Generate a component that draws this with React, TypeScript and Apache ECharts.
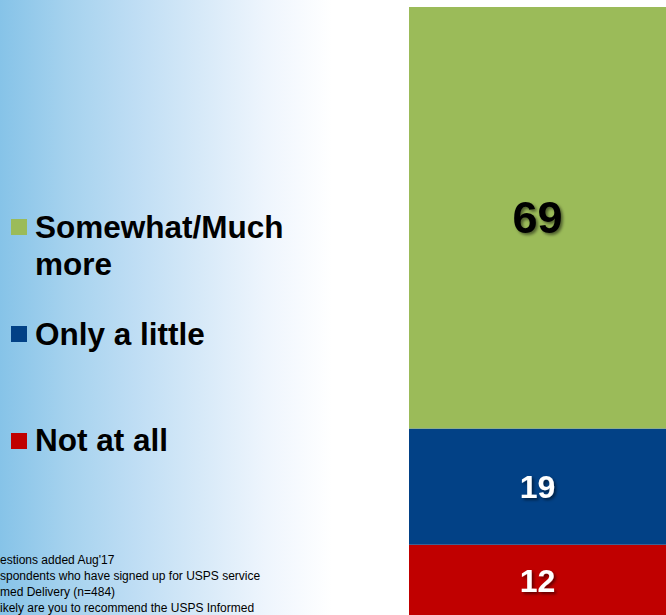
import React, { useEffect, useRef } from "react";
import * as echarts from "echarts";

const categories = ["Recommend"];
const seriesNames = ["Not at all", "Only a little", "Somewhat/Much more"];
const seriesValues = [12, 19, 69];
const seriesColors = ["#C00000", "#024186", "#9BBB59"];
const legendOrder = [2, 1, 0];
const legendLabels = ["Somewhat/Much\nmore", "Only a little", "Not at all"];
const footnoteLines = [
  "estions added Aug'17",
  "spondents who have signed up for USPS service",
  "med Delivery (n=484)",
  "ikely are you to recommend the USPS Informed",
];

export default function App() {
  const ref = useRef<HTMLDivElement>(null);
  useEffect(() => {
    if (!ref.current) return;
    const chart = echarts.init(ref.current, null, { renderer: "svg" });
    const font = "'Liberation Sans', Arial, sans-serif";
    const legendSquareY = [219, 326, 433];
    const legendTextY = [208, 333.5, 439.5];
    const legendGraphics: any[] = [];
    legendOrder.forEach((si, i) => {
      legendGraphics.push({
        type: "rect",
        shape: { x: 11, y: legendSquareY[i], width: 16, height: 16 },
        style: { fill: seriesColors[si] },
        silent: true,
      });
      legendGraphics.push({
        type: "text",
        x: 35,
        y: legendTextY[i],
        style: {
          text: legendLabels[i],
          fontFamily: font,
          fontWeight: "bold",
          fontSize: 31.5,
          lineHeight: 37,
          fill: "#000",
          verticalAlign: i === 0 ? "top" : "middle",
        },
        silent: true,
      });
    });
    const footGraphics = footnoteLines.map((t, i) => ({
      type: "text",
      x: 0,
      y: [560, 576, 592, 607.5][i],
      style: {
        text: t,
        fontFamily: font,
        fontSize: 12,
        lineHeight: 14,
        fill: "#000",
        verticalAlign: "middle",
      },
      silent: true,
    }));
    chart.setOption({
      animation: false,
      backgroundColor: "#fff",
      graphic: [
        {
          type: "rect",
          z: -10,
          shape: { x: 0, y: 0, width: 332, height: 615 },
          style: {
            fill: new echarts.graphic.LinearGradient(0, 0, 1, 0, [
              { offset: 0, color: "#86C3E8" },
              { offset: 0.2, color: "#A5D2EE" },
              { offset: 0.4, color: "#BEDDF4" },
              { offset: 0.6, color: "#D6E9F8" },
              { offset: 0.8, color: "#EEF5FD" },
              { offset: 1, color: "#FFFFFF" },
            ]),
          },
          silent: true,
        },
        ...legendGraphics,
        ...footGraphics,
      ],
      grid: { left: 409, right: 0, top: 7, height: 611, outerBoundsMode: "none", containLabel: false },
      xAxis: { type: "category", data: categories, show: false },
      yAxis: { type: "value", min: 0, max: 100, show: false },
      series: seriesNames.map((name, i) => ({
        name,
        type: "bar",
        stack: "total",
        barWidth: "100%",
        data: [seriesValues[i]],
        itemStyle: { color: seriesColors[i] },
        label: {
          show: true,
          position: "inside",
          fontFamily: font,
          fontWeight: "bold",
          fontSize: i === 2 ? 45 : 32,
          color: i === 2 ? "#000" : "#fff",
          textShadowColor: "rgba(0,0,0,0.5)",
          textShadowBlur: 3,
          textShadowOffsetX: 2,
          textShadowOffsetY: 2,
        },
      })),
    });
    return () => chart.dispose();
  }, []);
  return (
    <div
      ref={ref}
      style={{ position: "fixed", left: 0, top: 0, width: 666, height: 615 }}
    />
  );
}
